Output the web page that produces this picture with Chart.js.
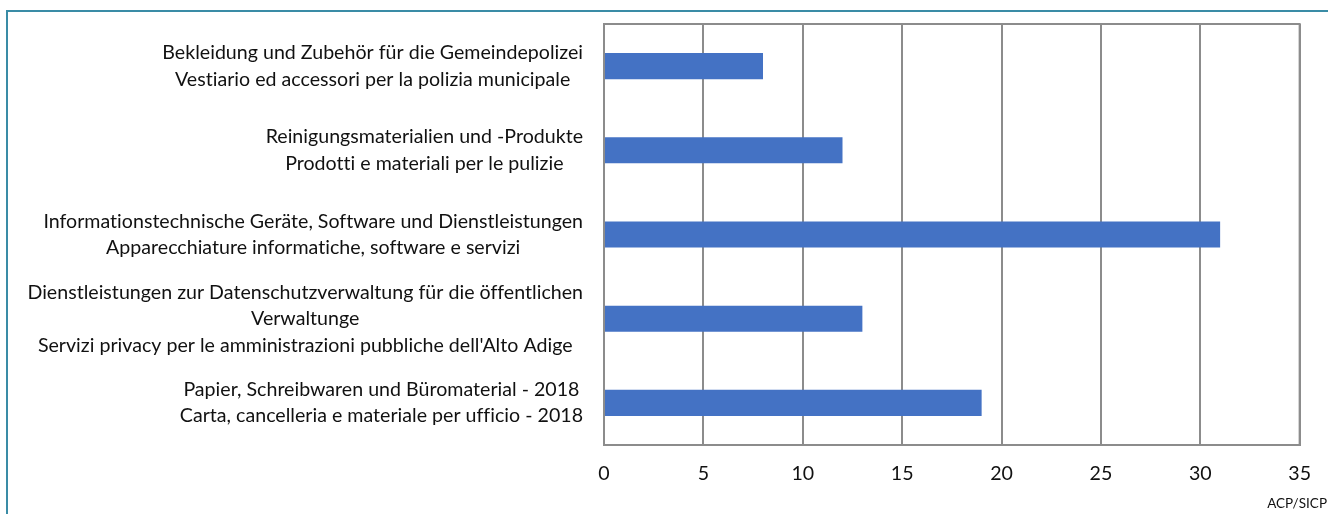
<!DOCTYPE html>
<html>
<head>
<meta charset="utf-8">
<script src="https://cdn.jsdelivr.net/npm/chart.js@4"></script>
<style>
  body { margin: 0; background: #fff; overflow: hidden; }
  #frame { position: absolute; left: 6px; top: 10px; width: 1400px; height: 600px; border: 2px solid #3a8ca6; }
  #wrap { position: absolute; left: 0; top: 0; width: 1328px; height: 514px; }
</style>
</head>
<body>
<div id="frame"></div>
<div id="wrap"><canvas id="chart" width="1328" height="514"></canvas></div>
<script>
const categories = [
  ['Bekleidung und Zubehör für die Gemeindepolizei', 'Vestiario ed accessori per la polizia municipale'],
  ['Reinigungsmaterialien und -Produkte', 'Prodotti e materiali per le pulizie'],
  ['Informationstechnische Geräte, Software und Dienstleistungen', 'Apparecchiature informatiche, software e servizi'],
  ['Dienstleistungen zur Datenschutzverwaltung für die öffentlichen', 'Verwaltunge', "Servizi privacy per le amministrazioni pubbliche dell'Alto Adige"],
  ['Papier, Schreibwaren und Büromaterial - 2018', 'Carta, cancelleria e materiale per ufficio - 2018']
];
const values = [8, 12, 31, 13, 19];
const xTicks = { min: 0, max: 35, step: 5 };
const sourceNote = 'ACP/SICP';

const FONT = "Lato, 'Open Sans', sans-serif";
const TEXT = '#111';
const GRID = '#8c8c8c';

// draws the category labels: each block right aligned, lines centred inside the block
const labelPlugin = {
  id: 'labelPlugin',
  afterDraw(chart) {
    const ctx = chart.ctx;
    const yScale = chart.scales.y;
    const area = chart.chartArea;
    const right = area.left - 21;
    const lineH = 26.5;
    ctx.save();
    ctx.font = '19.6px ' + FONT;
    ctx.letterSpacing = '0.01px'; // keeps Lato from joining "ti"
    ctx.fillStyle = TEXT;
    ctx.textAlign = 'center';
    ctx.textBaseline = 'middle';
    for (let i = 0; i < categories.length; i++) {
      const lines = categories[i];
      let widest = 0;
      for (let j = 0; j < lines.length; j++) {
        widest = Math.max(widest, ctx.measureText(lines[j]).width);
      }
      const cx = right - widest / 2;
      const cy = yScale.getPixelForValue(i);
      const top = cy - (lines.length - 1) * lineH / 2;
      for (let j = 0; j < lines.length; j++) {
        ctx.fillText(lines[j], cx, top + j * lineH);
      }
    }
    // frame of the plot area
    ctx.strokeStyle = GRID;
    ctx.lineWidth = 2;
    ctx.strokeRect(area.left, area.top, area.right - area.left, area.bottom - area.top);
    // source note
    ctx.font = '13.5px ' + FONT;
    ctx.textAlign = 'right';
    ctx.fillText(sourceNote, 1327, 504);
    ctx.restore();
  }
};

Chart.defaults.font.family = FONT;
Chart.defaults.color = TEXT;

new Chart(document.getElementById('chart'), {
  type: 'bar',
  data: {
    labels: categories,
    datasets: [{
      label: 'Anzahl',
      data: values,
      backgroundColor: '#4472c4',
      barPercentage: 0.31,
      categoryPercentage: 1.0
    }]
  },
  options: {
    indexAxis: 'y',
    responsive: false,
    animation: false,
    layout: { padding: { top: 24, right: 28, left: 0, bottom: 0 } },
    plugins: { legend: { display: false }, tooltip: { enabled: false } },
    scales: {
      x: {
        min: xTicks.min,
        max: xTicks.max,
        ticks: { stepSize: xTicks.step, padding: 17, font: { size: 19.6 }, color: TEXT },
        grid: { color: GRID, lineWidth: 2, drawTicks: false },
        border: { color: GRID, width: 2 },
        afterFit(scale) { scale.height = 69; }
      },
      y: {
        ticks: { display: false },
        grid: { display: false },
        border: { color: GRID, width: 2 },
        afterFit(scale) { scale.width = 604; }
      }
    }
  },
  plugins: [labelPlugin]
});
</script>
</body>
</html>
